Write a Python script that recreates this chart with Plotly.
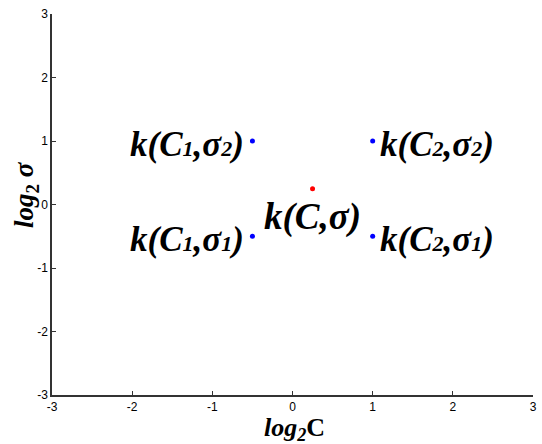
import plotly.graph_objects as go

# data
grid_x = [-0.5, 1, -0.5, 1]
grid_y = [1, 1, -0.5, -0.5]
grid_names = [("1", "2"), ("2", "2"), ("1", "1"), ("2", "1")]
center_x = [0.25]
center_y = [0.25]
center_label = "k(C,σ)"
center_label_pos = (0.25, -0.2)
ticks = [-3, -2, -1, 0, 1, 2, 3]

SERIF = "Liberation Serif"
SANS = "Liberation Sans"
SUB = '<span style="font-size:22px">{}</span>'

fig = go.Figure()
fig.add_trace(go.Scatter(x=grid_x, y=grid_y, mode="markers",
                         marker=dict(color="#0000ff", size=5), showlegend=False))
fig.add_trace(go.Scatter(x=center_x, y=center_y, mode="markers",
                         marker=dict(color="#ff0000", size=5), showlegend=False))

anns = []
for x, y, (ci, si) in zip(grid_x, grid_y, grid_names):
    left = x < 0
    t = f"k(C{SUB.format(ci)},σ{SUB.format(si)})"
    anns.append(dict(x=x, y=y, xref="x", yref="y", text=f"<b><i>{t}</i></b>",
                     showarrow=False, xanchor="right" if left else "left",
                     yanchor="middle", xshift=-6 if left else 5, yshift=-3,
                     font=dict(family=SERIF, size=35, color="black")))
anns.append(dict(x=center_label_pos[0], y=center_label_pos[1], xref="x", yref="y",
                 text=f"<b><i>{center_label}</i></b>", showarrow=False,
                 xanchor="center", yanchor="middle",
                 font=dict(family=SERIF, size=37, color="black")))
anns.append(dict(x=0.504, y=-0.09, xref="paper", yref="paper",
                 text="<b><i>log</i><sub><i>2</i></sub>C</b>", showarrow=False,
                 xanchor="center", yanchor="middle",
                 font=dict(family=SERIF, size=26, color="black")))
anns.append(dict(x=-0.054, y=0.525, xref="paper", yref="paper",
                 text="<b><i>log</i><sub>2</sub> <i>σ</i></b>", showarrow=False,
                 textangle=-90, xanchor="center", yanchor="middle",
                 font=dict(family=SERIF, size=27, color="black")))

axis_common = dict(range=[-3, 3], tickvals=ticks, ticktext=[str(t) for t in ticks],
                   showgrid=False, zeroline=False, showline=True, linecolor="#333333",
                   linewidth=1.5, ticks="inside", ticklen=4, tickcolor="#333333",
                   automargin=False,
                   tickfont=dict(family=SANS, size=12, color="black"))
fig.update_layout(
    width=542, height=444,
    margin=dict(l=52, r=9, t=14, b=49),
    paper_bgcolor="white", plot_bgcolor="white",
    xaxis=dict(**axis_common),
    yaxis=dict(**axis_common),
    annotations=anns,
)
fig.write_html("out.html", config={"displayModeBar": False},
               post_script="document.body.style.margin='0';")
